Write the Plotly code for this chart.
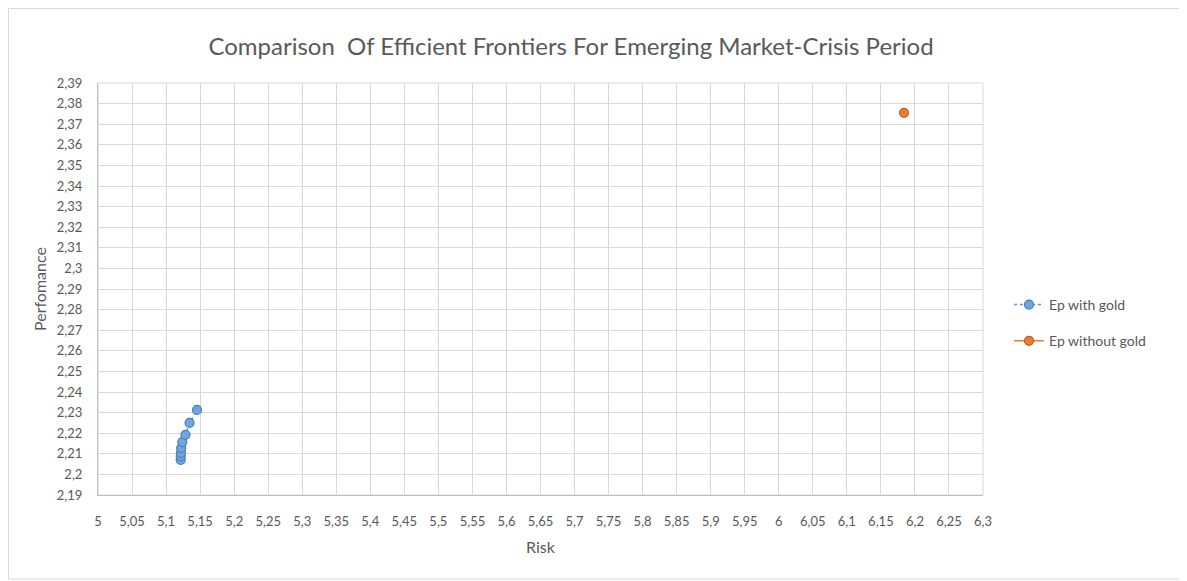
import plotly.graph_objects as go

# Data
risk_with_gold = [5.1215, 5.1215, 5.1218, 5.1222, 5.1238, 5.1285, 5.1345, 5.1455]
perf_with_gold = [2.2070, 2.2088, 2.2104, 2.2128, 2.2157, 2.2192, 2.2250, 2.2313]
risk_without_gold = [6.184]
perf_without_gold = [2.3755]

x_ticks = [round(5 + 0.05 * i, 2) for i in range(27)]
y_ticks = [round(2.19 + 0.01 * i, 2) for i in range(21)]


def fmt(v):
    s = ("%.2f" % v).rstrip("0").rstrip(".")
    return s.replace(".", ",")


x_labels = [fmt(v) for v in x_ticks]
y_labels = [fmt(v) for v in y_ticks]

FONT = "Lato, 'Open Sans', sans-serif"
GRID = "#D9D9D9"
TXT = "#595959"

# page body has an 8px offset; figure is sized/positioned to compensate
W, H = 1179, 573
L, R, T, B = 90, 204, 75, 86
PW, PH = W - L - R, H - T - B

fig = go.Figure()
fig.add_trace(go.Scatter(
    x=risk_with_gold, y=perf_with_gold, name="Ep with gold",
    mode="lines+markers", legendgroup="a",
    line=dict(color="#5B9BD5", width=1.5, dash="dot"),
    marker=dict(size=9, color="#6FA6DB", line=dict(color="#4A7EBB", width=1.2)),
))
fig.add_trace(go.Scatter(
    x=risk_without_gold, y=perf_without_gold, name="Ep without gold",
    mode="lines+markers", legendgroup="b",
    line=dict(color="#ED7D31", width=1.5),
    marker=dict(size=9, color="#ED7D31", line=dict(color="#B85F2A", width=1.2)),
))

fig.update_layout(
    width=W, height=H,
    margin=dict(l=L, r=R, t=T, b=B, autoexpand=False),
    paper_bgcolor="white", plot_bgcolor="white",
    font=dict(family=FONT, color=TXT, size=13),
    title=dict(text="Comparison  Of Efficient Frontiers For Emerging Market-Crisis Period",
               x=563 / W, xanchor="center", y=1 - 39 / H, yanchor="middle",
               font=dict(size=24, color=TXT, family=FONT)),
    legend=dict(x=(1001 - L) / PW, y=1 - (315 - T) / PH, xanchor="left", yanchor="middle",
                font=dict(size=14, color=TXT), tracegroupgap=15,
                traceorder="grouped", bgcolor="rgba(0,0,0,0)"),
    showlegend=True,
)
fig.update_xaxes(
    range=[5, 6.3], tickvals=x_ticks, ticktext=x_labels,
    showgrid=True, gridcolor=GRID, gridwidth=1,
    showline=True, linecolor="#BFBFBF", zeroline=False,
    ticks="", ticklabelstandoff=14, tickfont=dict(size=13, color=TXT),
    title=dict(text="Risk", font=dict(size=16, color=TXT), standoff=14),
)
fig.update_yaxes(
    range=[2.19, 2.39], tickvals=y_ticks, ticktext=y_labels,
    showgrid=True, gridcolor=GRID, gridwidth=1,
    showline=True, linecolor="#BFBFBF", zeroline=False,
    ticks="", ticklabelstandoff=12, tickfont=dict(size=13, color=TXT),
    title=dict(text="Perfomance", font=dict(size=16, color=TXT), standoff=6),
)
fig.add_shape(type="rect", xref="paper", yref="paper", x0=0, x1=1, y0=0, y1=1,
              line=dict(color=GRID, width=1), layer="below")
fig.add_shape(type="rect", xref="paper", yref="paper",
              x0=(0.5 - L) / PW, x1=(1175 - L) / PW,
              y0=-(571 - (H - B)) / PH, y1=1 + (T - 0.5) / PH,
              line=dict(color="#D9D9D9", width=1))

fig.write_html("out.html")
